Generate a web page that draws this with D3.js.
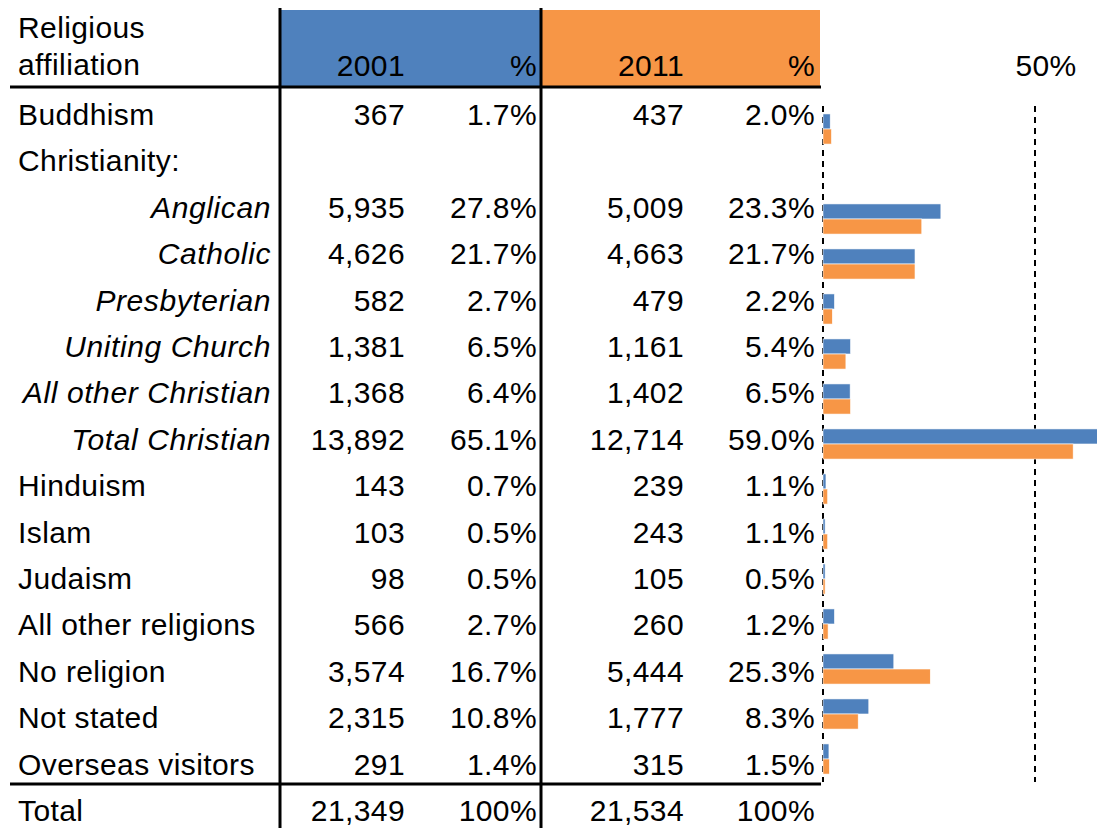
<!DOCTYPE html>
<html>
<head>
<meta charset="utf-8">
<script src="https://cdn.jsdelivr.net/npm/d3@7"></script>
<style>
  body { margin: 0; background: #fff; }
  text { font-family: "Liberation Sans", Arial, sans-serif; font-size: 30px; letter-spacing: 0.4px; fill: #000; }
  text.sub { font-style: italic; letter-spacing: 0.6px; }
</style>
</head>
<body>
<svg width="1097" height="828"></svg>
<script>
// table rows (Christianity: is a heading only)
var rows = ["Buddhism", "Christianity:", "Anglican", "Catholic", "Presbyterian", "Uniting Church",
  "All other Christian", "Total Christian", "Hinduism", "Islam", "Judaism",
  "All other religions", "No religion", "Not stated", "Overseas visitors"];
var subRow = [false, false, true, true, true, true, true, true, false, false, false, false, false, false, false];

var count2001 = [367, null, 5935, 4626, 582, 1381, 1368, 13892, 143, 103, 98, 566, 3574, 2315, 291];
var pct2001 = [1.7, null, 27.8, 21.7, 2.7, 6.5, 6.4, 65.1, 0.7, 0.5, 0.5, 2.7, 16.7, 10.8, 1.4];
var count2011 = [437, null, 5009, 4663, 479, 1161, 1402, 12714, 239, 243, 105, 260, 5444, 1777, 315];
var pct2011 = [2.0, null, 23.3, 21.7, 2.2, 5.4, 6.5, 59.0, 1.1, 1.1, 0.5, 1.2, 25.3, 8.3, 1.5];

var years = ["2001", "2011"];
var totals = [21349, 21534];
var refLines = [0, 50];

var svg = d3.select("svg"),
    width = +svg.attr("width"),
    height = +svg.attr("height");

var blue = "#4F81BD", orange = "#F79646";
var fmtN = d3.format(",");
var fmtP = function(v) { return v.toFixed(1) + "%"; };

// text rows: 15 data rows plus Total
var yText = d3.scalePoint().domain(d3.range(16)).range([115, 811]);
// bar rows use slightly tighter spacing
var yBar = d3.scaleBand().domain(d3.range(rows.length)).range([106.5, 781.5]).paddingInner(0.33).paddingOuter(0.165);
var ySub = d3.scaleBand().domain([0, 1]).range([0, yBar.bandwidth()]);
var x = d3.scaleLinear().domain([0, 50]).range([823, 1035]);

// column right edges
var colLabelR = 271, col1 = 405, col2 = 537, col3 = 684, col4 = 815;

// header boxes
svg.append("rect").attr("x", 281).attr("y", 10).attr("width", 260).attr("height", 76).attr("fill", blue);
svg.append("rect").attr("x", 542).attr("y", 10).attr("width", 278).attr("height", 76).attr("fill", orange);

// header text
svg.append("text").attr("x", 18).attr("y", 38).text("Religious");
svg.append("text").attr("x", 18).attr("y", 75).text("affiliation");
var hdr = [[col1, years[0]], [col2, "%"], [col3, years[1]], [col4, "%"]];
svg.append("g").selectAll("text").data(hdr).enter().append("text")
  .attr("x", function(d) { return d[0]; })
  .attr("y", 76)
  .attr("text-anchor", "end")
  .text(function(d) { return d[1]; });
svg.append("text").attr("x", x(50) + 11).attr("y", 76).attr("text-anchor", "middle").text("50%");

// dashed reference lines
svg.append("g").selectAll("line").data(refLines).enter().append("line")
  .attr("x1", function(d) { return x(d); })
  .attr("x2", function(d) { return x(d); })
  .attr("y1", 106).attr("y2", 782)
  .attr("stroke", "#000").attr("stroke-width", 2)
  .attr("stroke-dasharray", "6,5");

// bars
var barData = [];
rows.forEach(function(r, i) {
  if (pct2001[i] != null) barData.push({ i: i, k: 0, v: pct2001[i] });
  if (pct2011[i] != null) barData.push({ i: i, k: 1, v: pct2011[i] });
});
svg.append("g").selectAll("rect").data(barData).enter().append("rect")
  .attr("x", x(0))
  .attr("y", function(d) { return yBar(d.i) + ySub(d.k); })
  .attr("width", function(d) { return x(d.v) - x(0); })
  .attr("height", ySub.bandwidth())
  .attr("fill", function(d) { return d.k === 0 ? blue : orange; })
  .attr("stroke", "#fff").attr("stroke-width", 0.6);

// row text
var rowG = svg.append("g").selectAll("g").data(rows).enter().append("g")
  .attr("transform", function(d, i) { return "translate(0," + (yText(i) + 10) + ")"; });

rowG.append("text")
  .attr("class", function(d, i) { return subRow[i] ? "sub" : null; })
  .attr("x", function(d, i) { return subRow[i] ? colLabelR : 18; })
  .attr("text-anchor", function(d, i) { return subRow[i] ? "end" : "start"; })
  .text(function(d) { return d; });

var cells = [[col1, count2001, fmtN], [col2, pct2001, fmtP], [col3, count2011, fmtN], [col4, pct2011, fmtP]];
cells.forEach(function(c) {
  rowG.append("text")
    .attr("x", c[0])
    .attr("text-anchor", "end")
    .text(function(d, i) { return c[1][i] == null ? "" : c[2](c[1][i]); });
});

// total row
var ty = yText(15) + 10;
svg.append("text").attr("x", 18).attr("y", ty).text("Total");
svg.append("text").attr("x", col1).attr("y", ty).attr("text-anchor", "end").text(fmtN(totals[0]));
svg.append("text").attr("x", col2).attr("y", ty).attr("text-anchor", "end").text("100%");
svg.append("text").attr("x", col3).attr("y", ty).attr("text-anchor", "end").text(fmtN(totals[1]));
svg.append("text").attr("x", col4).attr("y", ty).attr("text-anchor", "end").text("100%");

// table rules
svg.append("line").attr("x1", 10).attr("x2", 821).attr("y1", 87).attr("y2", 87).attr("stroke", "#000").attr("stroke-width", 3);
svg.append("line").attr("x1", 10).attr("x2", 821).attr("y1", 784).attr("y2", 784).attr("stroke", "#000").attr("stroke-width", 3);
svg.append("line").attr("x1", 280).attr("x2", 280).attr("y1", 8).attr("y2", height).attr("stroke", "#000").attr("stroke-width", 3);
svg.append("line").attr("x1", 541).attr("x2", 541).attr("y1", 8).attr("y2", height).attr("stroke", "#000").attr("stroke-width", 3);
</script>
</body>
</html>
